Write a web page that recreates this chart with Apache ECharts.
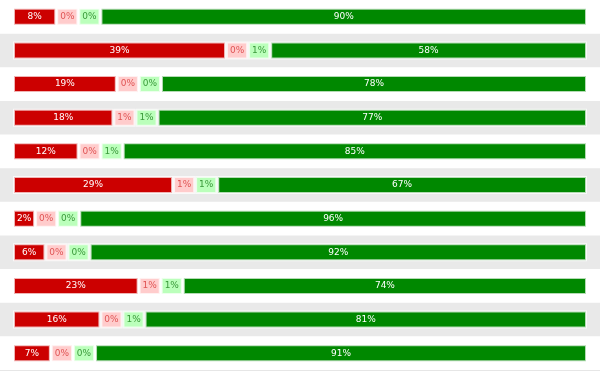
<!DOCTYPE html>
<html>
<head>
<meta charset="utf-8">
<script src="https://cdn.jsdelivr.net/npm/echarts@6/dist/echarts.min.js"></script>
<style>html,body{margin:0;padding:0;background:#fff}#c{width:600px;height:371px}</style>
</head>
<body>
<div id="c"></div>
<script>
var categories = ['1','2','3','4','5','6','7','8','9','10','11'];
var redValues   = [8, 39, 19, 18, 12, 29, 2, 6, 23, 16, 7];
var pinkValues  = [0, 0, 0, 1, 0, 1, 0, 0, 1, 0, 0];
var lightValues = [0, 1, 0, 1, 1, 1, 0, 0, 1, 1, 0];
var greenValues = [90, 58, 78, 77, 85, 67, 96, 92, 74, 81, 91];

var seriesValues = [redValues, pinkValues, lightValues, greenValues];
var colors = ['#cc0000', '#ffcccc', '#bbffbb', '#008800'];
var textColors = ['#ffffff', '#e05555', '#3a9a3a', '#ffffff'];
var MIN_SHARE = 3.85; // minimum displayed share for tiny segments

var display = seriesValues.map(function(){ return []; });
for (var i = 0; i < categories.length; i++) {
  var small = 0, bigSum = 0;
  seriesValues.forEach(function(arr){
    if (arr[i] < MIN_SHARE) small++; else bigSum += arr[i];
  });
  var rest = 100 - small * MIN_SHARE;
  seriesValues.forEach(function(arr, s){
    var v = arr[i];
    display[s].push({ value: v < MIN_SHARE ? MIN_SHARE : v / bigSum * rest, raw: v });
  });
}

var chart = echarts.init(document.getElementById('c'));
var series = [{
  type: 'custom', z: 0, silent: true,
  data: categories.map(function(c, i){ return [0, i]; }),
  encode: { x: 0, y: 1 },
  renderItem: function(params, api){
    var idx = api.value(1);
    if (idx % 2 === 0) return null;
    var pt = api.coord([0, idx]);
    var h = api.size([0, 1])[1];
    return { type: 'rect', shape: { x: 0, y: pt[1] - h / 2, width: api.getWidth(), height: h },
             style: { fill: '#e9e9e9' } };
  }
}].concat(display.map(function(d, s){
  return {
    type: 'bar', stack: 'all', barWidth: 18, z: 2,
    data: d,
    itemStyle: { color: colors[s], borderColor: 'rgba(255,255,255,0.7)', borderWidth: 2 },
    label: {
      show: true, position: 'inside',
      fontFamily: 'DejaVu Sans', fontSize: 9,
      color: textColors[s],
      formatter: function(p){ return p.data.raw + '%'; }
    }
  };
}));

chart.setOption({
  animation: false,
  grid: { left: 13, right: 13, top: 0, bottom: 1 },
  xAxis: {
    type: 'value', min: 0, max: 100,
    axisLabel: { show: false }, splitLine: { show: false },
    axisTick: { show: false }, axisLine: { show: false }
  },
  yAxis: {
    type: 'category', data: categories, inverse: true,
    axisLabel: { show: false }, axisTick: { show: false },
    axisLine: { show: false }, splitLine: { show: false }
  },
  graphic: [{ type: 'line', shape: { x1: 0, y1: 370.5, x2: 600, y2: 370.5 }, style: { stroke: '#e6e6e6', lineWidth: 1 } }],
  series: series
});
</script>
</body>
</html>
